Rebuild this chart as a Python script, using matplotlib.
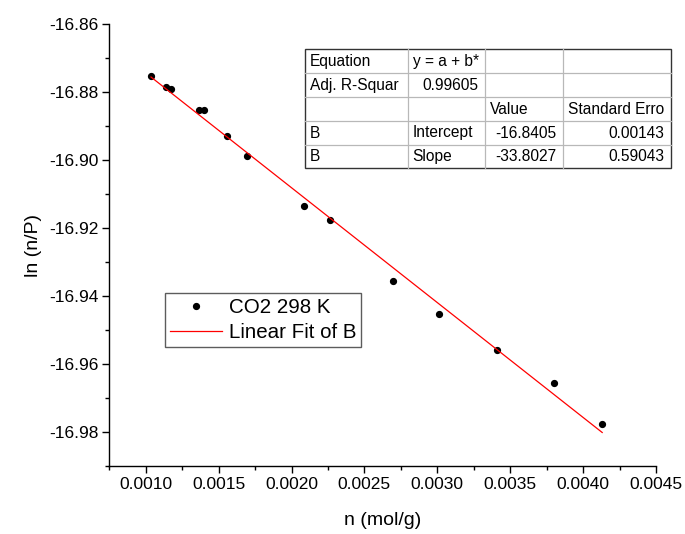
import numpy as np
import matplotlib
matplotlib.use("Agg")
import matplotlib.pyplot as plt
from matplotlib.lines import Line2D

plt.rcParams['font.family'] = ['Liberation Sans', 'DejaVu Sans']

# CO2 at 298 K
n_mol_g = [0.001036, 0.001141, 0.001171, 0.001365, 0.001397, 0.001557, 0.001697,
           0.002083, 0.002262, 0.002694, 0.003011, 0.003411, 0.003798, 0.004131]
ln_n_p = [-16.8752, -16.8784, -16.8790, -16.8853, -16.8852, -16.8928, -16.8987,
          -16.9135, -16.9177, -16.9355, -16.9452, -16.9559, -16.9657, -16.9777]

# linear fit result (from the table in the chart)
intercept = -16.8405
slope = -33.8027

table_rows = [
    ["Equation", "y = a + b*", "", ""],
    ["Adj. R-Squar", "0.99605", "", ""],
    ["", "", "Value", "Standard Erro"],
    ["B", "Intercept", "-16.8405", "0.00143"],
    ["B", "Slope", "-33.8027", "0.59043"],
]

W, H = 685, 534
fig = plt.figure(figsize=(W / 100, H / 100), dpi=100)
ax = fig.add_axes([109.3 / W, 1 - 466 / H, (656 - 109.3) / W, (466 - 24.3) / H])

x = np.array(n_mol_g)
ax.plot(x, ln_n_p, 'o', color='black', ms=4.2, label='CO2 298 K')
xf = np.array([x.min(), x.max()])
ax.plot(xf, intercept + slope * xf, color='red', lw=0.9, label='Linear Fit of B')

ax.set_xlim(0.00075, 0.0045)
ax.set_ylim(-16.99, -16.86)
ax.set_xticks(np.arange(0.0010, 0.00451, 0.0005))
ax.set_xticks(np.arange(0.00075, 0.00451, 0.0005), minor=True)
ax.set_yticks(np.arange(-16.98, -16.859, 0.02))
ax.set_yticks(np.arange(-16.99, -16.859, 0.02), minor=True)
ax.xaxis.set_major_formatter(matplotlib.ticker.FormatStrFormatter('%.4f'))
ax.yaxis.set_major_formatter(matplotlib.ticker.FormatStrFormatter('%.2f'))
for s in ['top', 'right']:
    ax.spines[s].set_visible(False)
for s in ['left', 'bottom']:
    ax.spines[s].set_linewidth(1.0)
ax.tick_params(which='major', direction='out', length=5, width=1.0, labelsize=12.5, pad=3)
ax.tick_params(which='minor', direction='out', length=2.8, width=1.0)
ax.set_xlabel('n (mol/g)', fontsize=14, labelpad=14)
ax.set_ylabel('ln (n/P)', fontsize=14, labelpad=5)

leg = ax.legend(loc='upper left', bbox_to_anchor=((165 - 109.3) / 546.7, (466 - 292.7) / 441.7),
                fontsize=14.8, frameon=True, fancybox=False, borderaxespad=0,
                handlelength=2.5, handletextpad=0.35, labelspacing=0.3, borderpad=0.25)
leg.get_frame().set_edgecolor('#333333')
leg.get_frame().set_linewidth(1.0)

# results table, drawn in figure pixels (top-left origin)
col_x = [304.7, 407.7, 485, 563.3, 671]
row_y = [49.3, 73.3, 97.3, 121, 145, 168.3]


def fx(px):
    return px / W


def fy(py):
    return 1 - py / H


for yy in row_y[1:-1]:
    fig.add_artist(Line2D([fx(col_x[0]), fx(col_x[-1])], [fy(yy), fy(yy)], color='#b8b8b8', lw=0.9))
for xx in col_x[1:-1]:
    fig.add_artist(Line2D([fx(xx), fx(xx)], [fy(row_y[0]), fy(row_y[-1])], color='#b8b8b8', lw=0.9))
fig.add_artist(plt.Rectangle((fx(col_x[0]), fy(row_y[-1])), fx(col_x[-1]) - fx(col_x[0]),
                             fy(row_y[0]) - fy(row_y[-1]), fill=False, edgecolor='#333333',
                             lw=1.0, transform=fig.transFigure))

# which cells are right aligned (numbers)
right_cells = {(1, 1), (3, 2), (3, 3), (4, 2), (4, 3)}
for r, row in enumerate(table_rows):
    yc = (row_y[r] + row_y[r + 1]) / 2
    for c, txt in enumerate(row):
        if not txt:
            continue
        if (r, c) in right_cells:
            fig.text(fx(col_x[c + 1] - 6.5), fy(yc), txt, ha='right', va='center', fontsize=11.2)
        else:
            fig.text(fx(col_x[c] + 5), fy(yc), txt, ha='left', va='center', fontsize=11.2)

fig.savefig('out.png', dpi=100)
